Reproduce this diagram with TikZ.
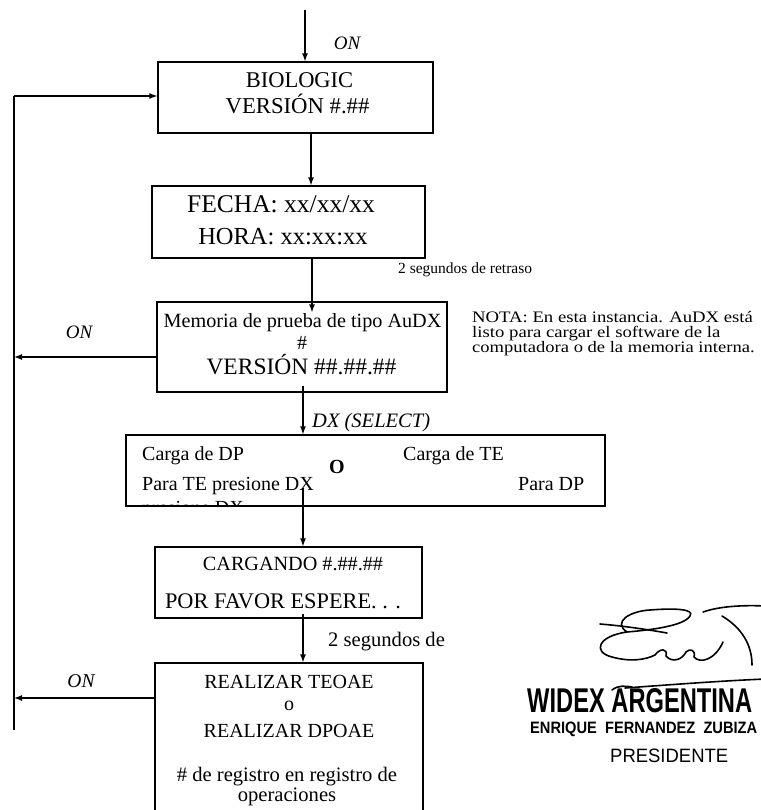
\documentclass[tikz,border=0pt]{standalone}
\usepackage{fontspec}
\usepackage{graphicx}
\setmainfont{Liberation Serif}
\newfontfamily\stampsans{Liberation Sans}
\usetikzlibrary{arrows.meta,calc}
\newcommand\fsz[1]{\fontsize{#1}{#1}\selectfont}
\begin{document}
\begin{tikzpicture}[x=1pt,y=-1pt,
  box/.style={draw,line width=1.2pt,inner sep=0pt},
  conn/.style={line width=1.3pt,-{Latex[length=8pt,width=6pt]}},
  plain/.style={line width=1.3pt},
  lbl/.style={inner sep=0pt,anchor=base},
  lblw/.style={inner sep=0pt,anchor=base west},
  sig/.style={line width=1.6pt,line cap=round,line join=round}]
\useasboundingbox (0,0) rectangle (760,810);

% boxes
\node[box,minimum width=275pt,minimum height=71pt] (b1) at (295.5,97.5) {};
\node[box,minimum width=273pt,minimum height=72pt] (b2) at (288.5,222) {};
\node[box,minimum width=290pt,minimum height=90pt] (b3) at (302,347) {};
\node[box,minimum width=479pt,minimum height=71pt] (b4) at (365.5,470.5) {};
\node[box,minimum width=267pt,minimum height=71pt] (b5) at (288.5,582.5) {};
\node[box,minimum width=268pt,minimum height=157pt] (b6) at (289,741.5) {};

% guide coordinates
\coordinate (start) at (305,10);
\coordinate (L1) at (14,96);
\coordinate (L2) at (14,730);
\coordinate (x1) at (311,0);
\coordinate (x2) at (312,0);
\coordinate (x3) at (303,0);
\coordinate (y3) at (0,357);
\coordinate (y6) at (0,698);

% connectors
\draw[conn] (start) -- (start |- b1.north);
\draw[plain] (L2) -- (L1);
\draw[conn] (L1) -- (L1 -| b1.west);
\draw[conn] (x1 |- b1.south) -- (x1 |- b2.north);
\draw[conn] (x2 |- b2.south) -- ($(x2 |- b3.north)+(0,11)$);
\draw[conn] (y3 -| b3.west) -- (y3 -| L1);
\draw[conn] ($(x3 |- b3.south)+(0,-7)$) -- (x3 |- b4.north);
\draw[conn] ($(x3 |- b4.south)+(0,-19)$) -- (x3 |- b5.north);
\draw[conn] ($(x3 |- b5.south)+(0,-5)$) -- (x3 |- b6.north);
\draw[conn] (y6 -| b6.west) -- (y6 -| L1);

% texts
\node[lbl,font=\fsz{19}\itshape] (on1) at (347,50) {ON};
\node[lbl,font=\fsz{22.5}] (bio) at (299.5,88) {BIOLOGIC};
\node[lbl,font=\fsz{22.7}] (ver1) at (297.5,114) {VERSIÓN \#.\#\#};
\node[lbl,font=\fsz{25.5}] (fecha) at (281,212) {FECHA: xx/xx/xx};
\node[lbl,font=\fsz{24.5}] (hora) at (283,244) {HORA: xx:xx:xx};
\node[lblw,font=\fsz{15.5}] (seg1) at (398,273) {2 segundos de retraso};
\node[lbl,font=\fsz{20.2}] (mem) at (302.5,327) {Memoria de prueba de tipo AuDX};
\node[lbl,font=\fsz{20}] (hash) at (302,349) {\#};
\node[lbl,font=\fsz{23.5}] (ver2) at (301.5,374) {VERSIÓN \#\#.\#\#.\#\#};
\node[lbl,font=\fsz{19}\itshape] (on2) at (79,338) {ON};
\node[lblw,font=\fsz{16}] (nota1) at (472,322) {\scalebox{1.17}[1]{NOTA: En esta instancia. AuDX está}};
\node[lblw,font=\fsz{16}] (nota2) at (472,337) {\scalebox{1.17}[1]{listo para cargar el software de la}};
\node[lblw,font=\fsz{16}] (nota3) at (472,352) {\scalebox{1.16}[1]{computadora o de la memoria interna.}};
\node[lblw,font=\fsz{20.5}\itshape] (dxsel) at (312,427) {DX (SELECT)};
\node[lblw,font=\fsz{20}] (cdp) at (142,460) {Carga de DP};
\node[lblw,font=\fsz{20}] (cte) at (403,460) {Carga de TE};
\node[lbl,font=\fsz{20}\bfseries] (o1) at (337,473) {O};
\node[lblw,font=\fsz{20}] (pte) at (142,490) {Para TE presione DX};
\node[lblw,font=\fsz{20}] (pdp) at (518,490) {Para DP};
\begin{scope}
  \clip (b4.north west) rectangle (b4.south east);
  \node[lblw,font=\fsz{20}] (pdx) at (142,514) {presione DX};
\end{scope}
\node[lbl,font=\fsz{20.2}] (carg) at (293,570) {CARGANDO \#.\#\#.\#\#};
\node[lbl,font=\fsz{22.3}] (porf) at (283,608) {POR FAVOR ESPERE. . .};
\node[lblw,font=\fsz{20.6}] (seg2) at (328,646) {2 segundos de};
\node[lbl,font=\fsz{19.5}\itshape] (on3) at (81,687) {ON};
\node[lbl,font=\fsz{20}] (real1) at (289,688) {REALIZAR TEOAE};
\node[lbl,font=\fsz{20}] (o2) at (289,710) {o};
\node[lbl,font=\fsz{20}] (real2) at (289,737) {REALIZAR DPOAE};
\node[lbl,font=\fsz{20.6}] (reg1) at (287,781.5) {\# de registro en registro de};
\node[lbl,font=\fsz{20.6}] (reg2) at (287,801.5) {operaciones};

% stamp
\node[lblw] (widex) at (527,712) {\resizebox{225pt}{24pt}{\stampsans\bfseries WIDEX ARGENTINA}};
\node[lblw] (enrique) at (530,733) {\resizebox{227pt}{11.5pt}{\stampsans\bfseries ENRIQUE\ \ FERNANDEZ\ \ ZUBIZA}};
\node[lblw] (pres) at (610,762) {\resizebox{118pt}{13.5pt}{\stampsans PRESIDENTE}};

% signature
\draw[sig] (600,624) .. controls (625,626) and (650,630) .. (667,633);
\draw[sig] (627,632) .. controls (612,622) and (630,611) .. (650,610)
  .. controls (675,608) and (695,609) .. (690,616)
  .. controls (684,626) and (650,630) .. (627,632)
  .. controls (598,636) and (592,652) .. (612,657)
  .. controls (630,662) and (645,660) .. (655,655)
  .. controls (660,648) and (668,648) .. (666,656)
  .. controls (672,663) and (682,660) .. (686,652)
  .. controls (690,648) and (696,650) .. (694,657)
  .. controls (700,664) and (715,660) .. (723,642);
\draw[sig] (703,612) .. controls (720,606) and (745,605) .. (765,606);
\draw[sig] (722,616) .. controls (742,628) and (752,645) .. (752,665);
\draw[sig] (612,690) .. controls (618,685) and (626,686) .. (632,687);
\draw[sig] (625,688) .. controls (680,684) and (720,681) .. (765,679);
\end{tikzpicture}
\end{document}
